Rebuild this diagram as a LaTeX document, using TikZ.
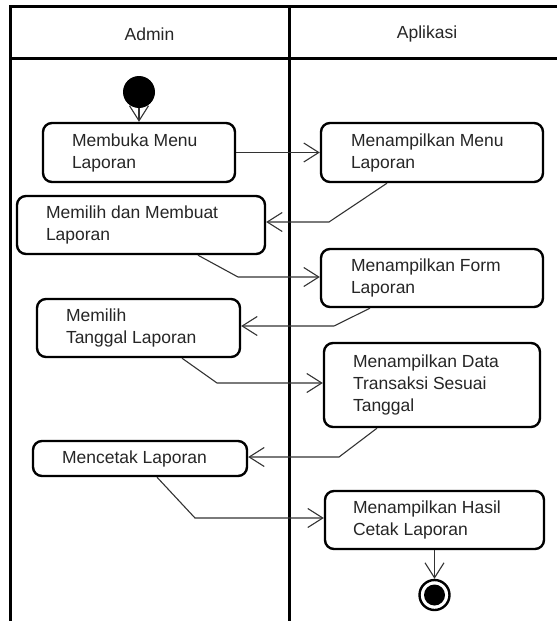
\documentclass[tikz,border=0pt]{standalone}
\usepackage{fontspec}
\setmainfont{Liberation Sans}
\usetikzlibrary{arrows.meta}

\begin{document}
\begin{tikzpicture}[x=1pt, y=-1pt,
  every node/.style={font=\fontsize{17.5}{22}\selectfont, text=black!85},
  lane/.style={line width=3pt, black},
  actbox/.style={draw, line width=2.4pt, rounded corners=9pt, fill=white, inner sep=0pt},
  acttext/.style={anchor=west, align=left, inner sep=0pt, xshift=30pt},
  flow/.style={line width=1.1pt, black!80, -{Straight Barb[length=15pt, width=19pt]}},
  startnode/.style={circle, fill=black, minimum size=32pt, inner sep=0pt},
  endnode/.style={circle, draw, line width=2.4pt, minimum size=30pt, inner sep=0pt,
    path picture={\fill (path picture bounding box.center) circle (10.5pt);}}
]
\useasboundingbox (0,0) rectangle (557,621);

% swimlane frame
\draw[lane] (10,621) -- (10,6) -- (557,6);
\draw[lane] (10,58) -- (557,58);
\draw[lane] (289,6) -- (289,621);
\node (hAdmin) at (149.5,34) {Admin};
\node (hApp) at (427,34) {Aplikasi};

% start and end
\node[startnode] (start) at (139,92) {};
\node[endnode] (stop) at (434.5,595) {};

% activities
\node[actbox, minimum width=192pt, minimum height=59pt] (b1) at (139,152.5) {};
\node[acttext] (t1) at (b1.west) {Membuka Menu\\Laporan};

\node[actbox, minimum width=222pt, minimum height=59pt] (b2) at (432,152.5) {};
\node[acttext, xshift=1pt] (t2) at (b2.west) {Menampilkan Menu\\Laporan};

\node[actbox, minimum width=248pt, minimum height=58pt] (b3) at (141,225) {};
\node[acttext] (t3) at (b3.west) {Memilih dan Membuat\\Laporan};

\node[actbox, minimum width=222pt, minimum height=58pt] (b4) at (432,278) {};
\node[acttext, xshift=1pt] (t4) at (b4.west) {Menampilkan Form\\Laporan};

\node[actbox, minimum width=203pt, minimum height=58pt] (b5) at (138.5,328) {};
\node[acttext] (t5) at (b5.west) {Memilih\\Tanggal Laporan};

\node[actbox, minimum width=216pt, minimum height=84pt] (b6) at (432,385) {};
\node[acttext] (t6) at (b6.west) {Menampilkan Data\\Transaksi Sesuai\\Tanggal};

\node[actbox, minimum width=214pt, minimum height=35pt] (b7) at (140,458.5) {};
\node[acttext] (t7) at (b7.west) {Mencetak Laporan};

\node[actbox, minimum width=219pt, minimum height=58pt] (b8) at (434.5,520) {};
\node[acttext, xshift=-1pt] (t8) at (b8.west) {Menampilkan Hasil\\Cetak Laporan};

% bend points of the connectors
\coordinate (k2) at (329,222);
\coordinate (k3) at (238,277);
\coordinate (k4) at (334,326);
\coordinate (k5) at (217,383);
\coordinate (k6) at (339,457);
\coordinate (k7) at (195,518);

% flows
\draw[flow] (start) -- (b1.north);
\draw[flow] (b1.east) -- (b2.west);
\draw[flow] ([xshift=-45pt]b2.south) -- (k2) -- (b3.east |- k2);
\draw[flow] ([xshift=57pt]b3.south) -- (k3) -- (b4.west |- k3);
\draw[flow] ([xshift=-62pt]b4.south) -- (k4) -- (b5.east |- k4);
\draw[flow] ([xshift=43.5pt]b5.south) -- (k5) -- (b6.west |- k5);
\draw[flow] ([xshift=-55pt]b6.south) -- (k6) -- (b7.east |- k6);
\draw[flow] ([xshift=17pt]b7.south) -- (k7) -- (b8.west |- k7);
\draw[flow] (b8.south) -- (stop.north);
\end{tikzpicture}
\end{document}
